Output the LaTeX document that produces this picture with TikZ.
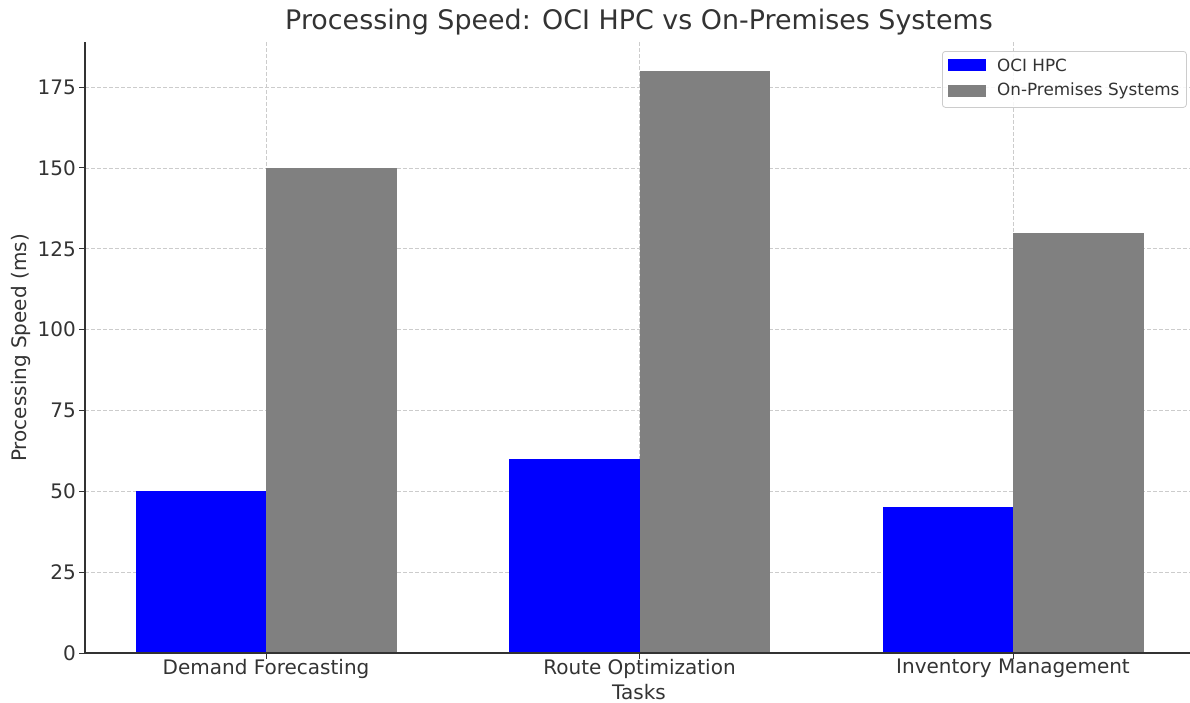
\documentclass[tikz,border=0pt]{standalone}
\usepackage{fontspec}
\setmainfont{DejaVu Sans}
\definecolor{txt}{HTML}{333333}
\definecolor{ociblue}{RGB}{0,0,255}
\definecolor{premgray}{HTML}{808080}
\definecolor{gridc}{HTML}{CCCCCC}
\begin{document}
\begin{tikzpicture}[x=1pt,y=-1pt,
  bar/.style={draw=none,inner sep=0pt,outer sep=0pt,minimum width=130.5pt},
  gridline/.style={draw=gridc,line width=0.8pt,dash pattern=on 4pt off 2pt},
  spine/.style={draw=txt,line width=1.2pt},
  ticklbl/.style={text=txt,font=\fontsize{20}{23}\selectfont,inner sep=0pt},
  leglbl/.style={text=txt,font=\fontsize{16.8}{19}\selectfont,inner sep=0pt,anchor=west}]
\useasboundingbox (0,0) rectangle (1190,702);
% horizontal grid + y ticks
\foreach \v in {0,25,...,175} {
  \coordinate (gl\v) at (85,{653-3.234*\v});
  \coordinate (gr\v) at (1190,{653-3.234*\v});
  \coordinate (tk\v) at (79,{653-3.234*\v});
  \ifnum\v>0 \draw[gridline] (gl\v) -- (gr\v); \fi
  \draw[txt,line width=1pt] (tk\v) -- (gl\v);
  \node[ticklbl,anchor=east] (yl\v) at (76,{653-3.234*\v}) {\v};
}
% vertical grid
\foreach \c/\n in {266/a,639.5/b,1013/c} {
  \coordinate (vt\n) at (\c,42);
  \coordinate (vb\n) at (\c,653);
  \coordinate (vk\n) at (\c,659);
  \draw[gridline] (vt\n) -- (vb\n);
  \draw[txt,line width=1pt] (vb\n) -- (vk\n);
}
% bars
\foreach \c/\a/\b/\n in {266/50/150/df,639.5/60/180/ro,1013/45/130/im} {
  \node[bar,fill=ociblue,minimum height={3.234*\a},anchor=south east] (oci\n) at (\c,653) {};
  \node[bar,fill=premgray,minimum height={3.234*\b},anchor=south west] (op\n) at (\c,653) {};
}
% spines
\coordinate (o) at (85,653);
\coordinate (top) at (85,42);
\coordinate (right) at (1190,653);
\draw[spine] (top) -- (o) -- (right);
% x tick labels
\node[ticklbl,anchor=north] (xdf) at (266,659) {Demand Forecasting};
\node[ticklbl,anchor=north] (xro) at (639.5,659) {Route Optimization};
\node[ticklbl,anchor=north] (xim) at (1013,659) {Inventory Management};
% axis labels
\node[ticklbl] (xlabel) at (639,692) {Tasks};
\node[ticklbl,rotate=90] (ylabel) at (21,348) {Processing Speed (ms)};
% title
\node[text=txt,font=\fontsize{26.9}{31}\selectfont,inner sep=0pt] (title) at (639,22) {Processing Speed: OCI HPC vs On-Premises Systems};
% legend
\node[draw=gridc,fill=white,fill opacity=0.85,rounded corners=3pt,line width=0.8pt,minimum width=244pt,minimum height=56pt,anchor=north west,inner sep=0pt] (legend) at (942,51) {};
\node[fill=ociblue,minimum width=38pt,minimum height=12pt,inner sep=0pt,anchor=west] (lp1) at (948,65) {};
\node[fill=premgray,minimum width=38pt,minimum height=12pt,inner sep=0pt,anchor=west] (lp2) at (948,91) {};
\node[leglbl] (lt1) at (997,65) {OCI HPC};
\node[leglbl] (lt2) at (997,91) {On-Premises Systems};
\end{tikzpicture}
\end{document}
